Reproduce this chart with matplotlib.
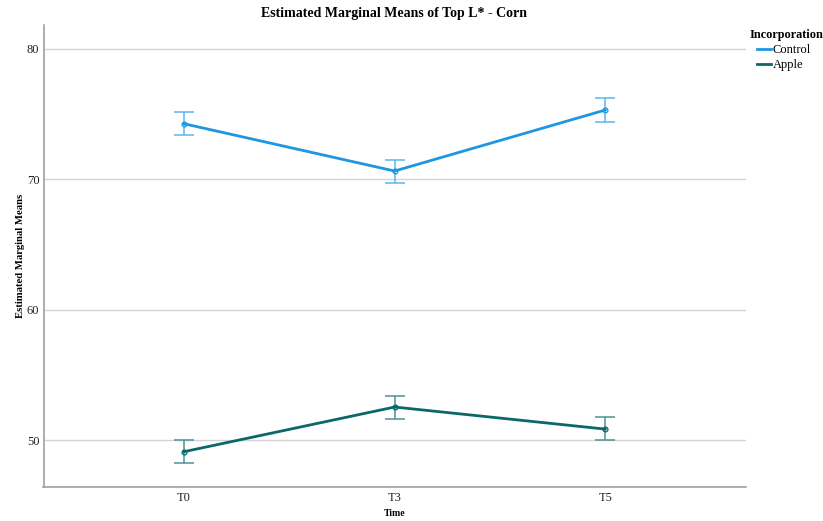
import matplotlib.pyplot as plt
import numpy as np

plt.rcParams['font.family'] = ['Liberation Serif', 'DejaVu Serif']

times = ['T0', 'T3', 'T5']
control_mean = [74.24, 70.62, 75.29]
control_low = [73.35, 69.70, 74.35]
control_high = [75.11, 71.46, 76.23]
apple_mean = [49.13, 52.55, 50.86]
apple_low = [48.26, 51.66, 50.00]
apple_high = [50.00, 53.41, 51.78]

fig = plt.figure(figsize=(8.23, 5.21), dpi=100)
ax = fig.add_axes([43.5 / 823, 1 - 486.7 / 521, (745.7 - 43.5) / 823, (486.7 - 25) / 521])

x = np.arange(len(times))

series = [
    ('Control', control_mean, control_low, control_high, '#1e96e2', '#5db6ec'),
    ('Apple', apple_mean, apple_low, apple_high, '#0b6869', '#4b9494'),
]
for name, mean, low, high, col, ecol in series:
    mean = np.array(mean)
    yerr = [mean - np.array(low), np.array(high) - mean]
    ax.errorbar(x, mean, yerr=yerr, fmt='none', ecolor=ecol, elinewidth=1.1,
                capsize=7.5, capthick=1.1, zorder=3)
    ax.plot(x, mean, color=col, lw=2, label=name, zorder=4,
            marker='o', ms=3.5, mfc='none', mec=col, mew=0.9)

ax.set_xlim(-0.667, 2.667)
ax.set_ylim(46.45, 81.8)
ax.set_xticks(x)
ax.set_xticklabels(times)
ax.set_yticks([50, 60, 70, 80])
ax.tick_params(length=0, labelsize=9, colors='#222222')
ax.tick_params(axis='x', pad=4)
ax.tick_params(axis='y', pad=3)
ax.grid(axis='y', color='#d4d4d4', lw=1)
ax.set_axisbelow(True)
for s in ['top', 'right']:
    ax.spines[s].set_visible(False)
for s in ['left', 'bottom']:
    ax.spines[s].set_color('#999999')
    ax.spines[s].set_linewidth(1.1)

ax.set_xlabel('Time', fontsize=7, fontweight='bold', labelpad=3.5)
ax.set_ylabel('Estimated Marginal Means', fontsize=7.7, fontweight='bold', labelpad=1.5)
fig.text(394 / 823, 1 - 14 / 521, 'Estimated Marginal Means of Top L* - Corn',
         ha='center', va='center', fontsize=10, fontweight='bold')

# legend title drawn on its own so the entries sit indented beneath it
fig.text(750 / 823, 1 - 35 / 521, 'Incorporation', ha='left', va='center',
         fontsize=8.8, fontweight='bold')
leg = fig.legend(loc='upper left', bbox_to_anchor=(757 / 823, 1 - 44 / 521),
                 frameon=False, fontsize=9, handlelength=1.1, handletextpad=0.15,
                 borderpad=0.0, borderaxespad=0.0, labelspacing=0.25)
for h in leg.legend_handles:
    h.set_marker('')

fig.savefig('out.png', dpi=100)
